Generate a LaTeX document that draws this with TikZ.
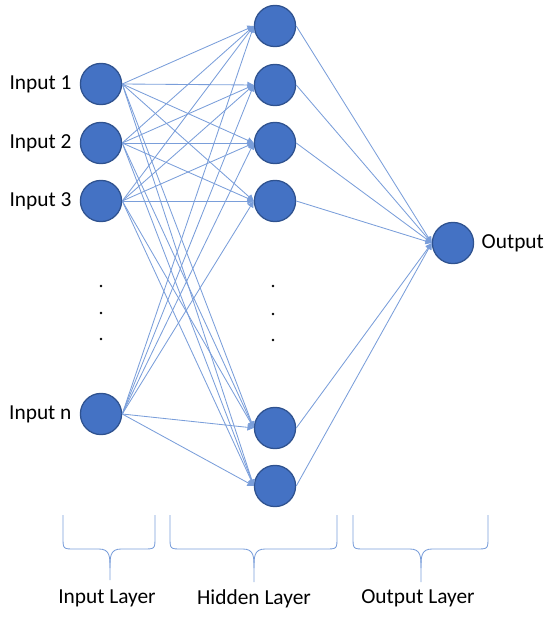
\documentclass[tikz,border=0pt]{standalone}
\usepackage{fontspec}
\setmainfont{Carlito}
\usetikzlibrary{positioning, arrows.meta}
\definecolor{nodeblue}{HTML}{4472C4}
\definecolor{nodeline}{HTML}{2F528F}
\definecolor{linkblue}{RGB}{122,158,218}

\begin{document}
\begin{tikzpicture}[x=0.025cm, y=-0.025cm,
  neu/.style={draw=nodeline, fill=nodeblue, circle, line width=0.9pt, minimum size=1.03cm, inner sep=0pt},
  lnk/.style={draw=linkblue, line width=0.6pt, -{Triangle[length=4.5pt,width=4.5pt]}},
  lbl/.style={font=\fontsize{15.2}{18}\selectfont, inner sep=0pt},
  brc/.style={draw=linkblue, line width=0.6pt},
  dt/.style={fill=black, circle, inner sep=0pt, minimum size=1.8pt}]
\useasboundingbox (0,0) rectangle (550,617);

% input layer
\node[neu] (i1) at (101,84){};
\node[neu] (i2) at (101,143){};
\node[neu] (i3) at (101,201){};
\node[neu] (in) at (101,414){};
\node[lbl, left = 0.2cm of i1] (l1){Input 1};
\node[lbl, left = 0.2cm of i2] (l2){Input 2};
\node[lbl, left = 0.2cm of i3] (l3){Input 3};
\node[lbl, left = 0.2cm of in] (ln){Input n};
\node[dt] (d1) at (101,286){};
\node[dt] (d2) at (101,313){};
\node[dt] (d3) at (101,339){};

% hidden layer
\node[neu] (h1) at (275,26){};
\node[neu] (h2) at (275,85){};
\node[neu] (h3) at (275,143){};
\node[neu] (h4) at (275,201){};
\node[neu] (h5) at (275,428){};
\node[neu] (h6) at (275,486){};
\node[dt] (e1) at (273,286){};
\node[dt] (e2) at (273,314){};
\node[dt] (e3) at (273,340){};

% output layer
\node[neu] (o) at (453,243){};
\node[lbl, right = 0.18cm of o] (lo){Output};

\draw[lnk] (i1.east) -- (h1.west); \draw[lnk] (i1.east) -- (h2.west); \draw[lnk] (i1.east) -- (h3.west);
\draw[lnk] (i1.east) -- (h4.west); \draw[lnk] (i1.east) -- (h5.west); \draw[lnk] (i1.east) -- (h6.west);
\draw[lnk] (i2.east) -- (h1.west); \draw[lnk] (i2.east) -- (h2.west); \draw[lnk] (i2.east) -- (h3.west);
\draw[lnk] (i2.east) -- (h4.west); \draw[lnk] (i2.east) -- (h5.west); \draw[lnk] (i2.east) -- (h6.west);
\draw[lnk] (i3.east) -- (h1.west); \draw[lnk] (i3.east) -- (h2.west); \draw[lnk] (i3.east) -- (h3.west);
\draw[lnk] (i3.east) -- (h4.west); \draw[lnk] (i3.east) -- (h5.west); \draw[lnk] (i3.east) -- (h6.west);
\draw[lnk] (in.east) -- (h1.west); \draw[lnk] (in.east) -- (h2.west); \draw[lnk] (in.east) -- (h3.west);
\draw[lnk] (in.east) -- (h4.west); \draw[lnk] (in.east) -- (h5.west); \draw[lnk] (in.east) -- (h6.west);
\draw[lnk] (h1.east) -- (o.west); \draw[lnk] (h2.east) -- (o.west); \draw[lnk] (h3.east) -- (o.west);
\draw[lnk] (h4.east) -- (o.west); \draw[lnk] (h5.east) -- (o.west); \draw[lnk] (h6.east) -- (o.west);

% braces
\draw[brc] (63,515) -- (63,537) .. controls (63,549) .. (75,549) -- (99,549)
  .. controls (110,549) and (110,557) .. (110,568) -- (110,580);
\draw[brc] (155,515) -- (155,537) .. controls (155,549) .. (143,549) -- (121,549)
  .. controls (110,549) and (110,557) .. (110,568);
\draw[brc] (170,515) -- (170,537) .. controls (170,549) .. (182,549) -- (243,549)
  .. controls (254,549) and (254,557) .. (254,568) -- (254,582);
\draw[brc] (337,515) -- (337,537) .. controls (337,549) .. (325,549) -- (265,549)
  .. controls (254,549) and (254,557) .. (254,568);
\draw[brc] (353,515) -- (353,537) .. controls (353,549) .. (365,549) -- (410,549)
  .. controls (421,549) and (421,557) .. (421,568) -- (421,582);
\draw[brc] (488,515) -- (488,537) .. controls (488,549) .. (476,549) -- (432,549)
  .. controls (421,549) and (421,557) .. (421,568);
\node[lbl] (lin) at (107,598){Input Layer};
\node[lbl] (lhid) at (254,599){Hidden Layer};
\node[lbl] (lout) at (418,598){Output Layer};
\end{tikzpicture}
\end{document}
